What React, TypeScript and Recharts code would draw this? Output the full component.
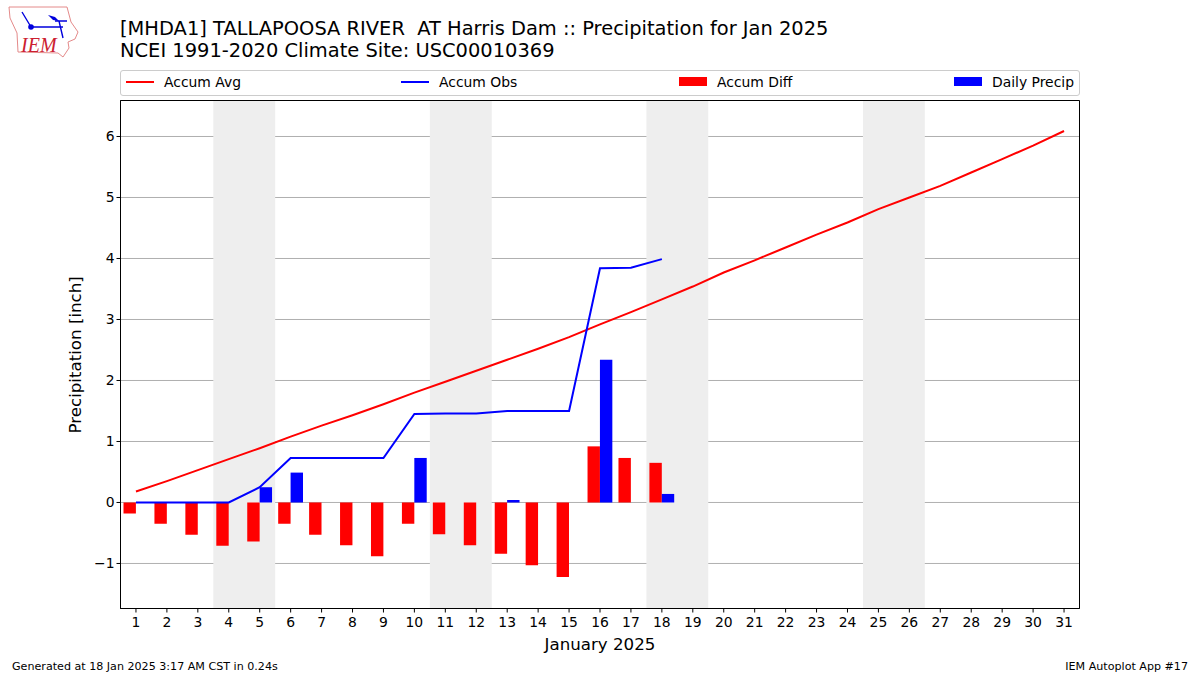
import {
  ComposedChart,
  Bar,
  Line,
  XAxis,
  YAxis,
  CartesianGrid,
  ReferenceArea,
} from "recharts";

const days = [
  1, 2, 3, 4, 5, 6, 7, 8, 9, 10, 11, 12, 13, 14, 15, 16, 17, 18, 19, 20, 21, 22,
  23, 24, 25, 26, 27, 28, 29, 30, 31,
];
const accumAvg = [
  0.18, 0.35, 0.53, 0.71, 0.89, 1.08, 1.26, 1.43, 1.61, 1.8, 1.98, 2.16, 2.34,
  2.52, 2.71, 2.92, 3.12, 3.33, 3.54, 3.77, 3.97, 4.18, 4.39, 4.59, 4.81, 5.0,
  5.19, 5.41, 5.63, 5.85, 6.09,
];
const accumObs = [
  0, 0, 0, 0, 0.25, 0.73, 0.73, 0.73, 0.73, 1.45, 1.46, 1.46, 1.5, 1.5, 1.5,
  3.84, 3.85, 3.99,
];
const accumDiff = [
  -0.18, -0.35, -0.53, -0.71, -0.64, -0.35, -0.53, -0.7, -0.88, -0.35, -0.52,
  -0.7, -0.84, -1.03, -1.22, 0.92, 0.73, 0.65,
];
const dailyPrecip = [
  0, 0, 0, 0, 0.25, 0.49, 0, 0, 0, 0.73, 0, 0, 0.04, 0, 0, 2.34, 0, 0.14,
];
const weekends = [
  [3.5, 5.5],
  [10.5, 12.5],
  [17.5, 19.5],
  [24.5, 26.5],
];
const yTicks = [-1, 0, 1, 2, 3, 4, 5, 6];

const chartData = days.map((day, i) => ({
  day,
  avg: accumAvg[i],
  obs: accumObs[i] ?? null,
  diff: accumDiff[i] ?? null,
  precip: dailyPrecip[i] ?? null,
}));

const font = "'DejaVu Sans', sans-serif";

const legendItems = [
  { label: "Accum Avg", color: "#ff0000", kind: "line", x: 126 },
  { label: "Accum Obs", color: "#0000ff", kind: "line", x: 401 },
  { label: "Accum Diff", color: "#ff0000", kind: "patch", x: 679 },
  { label: "Daily Precip", color: "#0000ff", kind: "patch", x: 954 },
];

function Logo() {
  return (
    <svg
      width={80}
      height={60}
      style={{ position: "absolute", left: 0, top: 0 }}
    >
      <path
        d="M9 7 L67 7 L71 22 L78 32 L75 39 L68 42 L69 48 L63 57 L58 53 L18 52 L17 33 L10 18 Z"
        fill="none"
        stroke="#e48a8a"
        strokeWidth={1}
      />
      <path
        d="M31 27 L63 27 M59 21 L63 38 M55 21 L67 21 M22 12 L31 27"
        fill="none"
        stroke="#0000dd"
        strokeWidth={1.4}
      />
      <path d="M48 15 L55 17 L59 21 L53 20 Z" fill="#0000dd" />
      <circle cx={31} cy={27} r={2.8} fill="#0000dd" />
      <text
        x={21}
        y={52}
        fontFamily="'Liberation Serif', serif"
        fontStyle="italic"
        fontSize={20}
        fill="#cc2030"
      >
        IEM
      </text>
    </svg>
  );
}

function ChartLegend() {
  return (
    <div
      style={{
        position: "absolute",
        left: 120,
        top: 70,
        width: 958,
        height: 24,
        border: "1px solid #cccccc",
        borderRadius: 3,
      }}
    >
      {legendItems.map((item) => (
        <div key={item.label}>
          <div
            style={{
              position: "absolute",
              left: item.x - 121,
              top: item.kind === "line" ? 10 : 6,
              width: 28,
              height: item.kind === "line" ? 2 : 9,
              background: item.color,
            }}
          />
          <div
            style={{
              position: "absolute",
              left: item.x - 121 + 38,
              top: 2,
              fontSize: 13.9,
              lineHeight: "18px",
              whiteSpace: "pre",
            }}
          >
            {item.label}
          </div>
        </div>
      ))}
    </div>
  );
}

export default function App() {
  return (
    <div
      style={{
        position: "fixed",
        left: 0,
        top: 0,
        width: 1200,
        height: 675,
        background: "#fff",
        fontFamily: font,
        color: "#000",
      }}
    >
      <Logo />
      <div
        style={{
          position: "absolute",
          left: 120,
          top: 18,
          fontSize: 19.44,
          lineHeight: "22px",
          whiteSpace: "pre",
        }}
      >
        {"[MHDA1] TALLAPOOSA RIVER  AT Harris Dam :: Precipitation for Jan 2025\nNCEI 1991-2020 Climate Site: USC00010369"}
      </div>
      <ChartLegend />
      <ComposedChart
        width={1200}
        height={675}
        data={chartData}
        margin={{ top: 100.5, right: 120.5, left: 60.5, bottom: 26.5 }}
        barGap={0}
        barSize={12.4}
      >
        {weekends.map(([from, to]) => (
          <ReferenceArea
            key={from}
            x1={from}
            x2={to}
            fill="#eeeeee"
            fillOpacity={1}
            stroke="none"
          />
        ))}
        <CartesianGrid vertical={false} stroke="#b0b0b0" strokeWidth={1} />
        <XAxis
          dataKey="day"
          type="number"
          domain={[0.5, 31.5]}
          ticks={days}
          interval={0}
          allowDataOverflow
          stroke="#000"
          tickSize={4}
          tickMargin={5}
          height={40}
          tick={{ fill: "#000", fontSize: 13.9, fontFamily: font }}
          label={{
            value: "January 2025",
            position: "insideBottom",
            offset: -1,
            fill: "#000",
            fontSize: 16.67,
            fontFamily: font,
          }}
        />
        <YAxis
          type="number"
          domain={[-1.738, 6.59]}
          ticks={yTicks}
          interval={0}
          allowDataOverflow
          stroke="#000"
          tickSize={4}
          width={60}
          tickFormatter={(v: number) => (v < 0 ? `\u2212${-v}` : `${v}`)}
          tick={{ fill: "#000", fontSize: 13.9, fontFamily: font }}
          label={{
            value: "Precipitation [inch]",
            angle: -90,
            position: "insideLeft",
            offset: 15,
            dy: 79,
            fill: "#000",
            fontSize: 16.67,
            fontFamily: font,
          }}
        />
        <Bar dataKey="diff" fill="#ff0000" isAnimationActive={false} />
        <Bar dataKey="precip" fill="#0000ff" isAnimationActive={false} />
        <Line
          dataKey="avg"
          stroke="#ff0000"
          strokeWidth={2}
          dot={false}
          type="linear"
          isAnimationActive={false}
        />
        <Line
          dataKey="obs"
          stroke="#0000ff"
          strokeWidth={2}
          dot={false}
          type="linear"
          isAnimationActive={false}
        />
        <ReferenceArea
          x1={0.5}
          x2={31.5}
          y1={-1.738}
          y2={6.59}
          fill="none"
          stroke="#000"
          strokeWidth={1}
        />
      </ComposedChart>
      <div style={{ position: "absolute", left: 12, top: 660, fontSize: 11.11, whiteSpace: "pre" }}>
        Generated at 18 Jan 2025 3:17 AM CST in 0.24s
      </div>
      <div style={{ position: "absolute", right: 12, top: 660, fontSize: 11.11, whiteSpace: "pre" }}>
        IEM Autoplot App #17
      </div>
    </div>
  );
}
